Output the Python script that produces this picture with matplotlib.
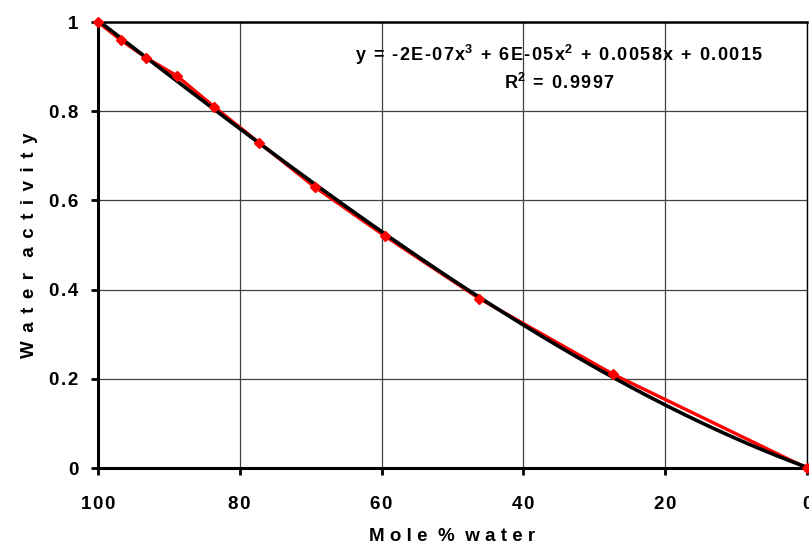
import numpy as np
import matplotlib
matplotlib.use("Agg")
from matplotlib import pyplot as plt

plt.rcParams['font.family'] = ['Liberation Sans', 'DejaVu Sans']
plt.rcParams['font.weight'] = 'bold'
plt.rcParams['mathtext.fontset'] = 'custom'
plt.rcParams['mathtext.rm'] = 'Liberation Sans:bold'
plt.rcParams['mathtext.it'] = 'Liberation Sans:bold'
plt.rcParams['mathtext.bf'] = 'Liberation Sans:bold'

# data
mole_pct_water = [100, 96.8, 93.2, 88.9, 83.6, 77.3, 69.4, 59.5, 46.2, 27.3, 0]
water_activity = [1.0, 0.96, 0.92, 0.88, 0.81, 0.73, 0.63, 0.52, 0.38, 0.21, 0.0]
x_ticks = [100, 80, 60, 40, 20, 0]
y_ticks = [0, 0.2, 0.4, 0.6, 0.8, 1]
y_tick_labels = ['0', '0.2', '0.4', '0.6', '0.8', '1']


def spaced(s, sep='\u200a'):
    # loose letter spacing, like the original chart text
    return sep.join(s)


eq_text = (spaced('y = -2E-07x') + r'$^{3}$' + '\u200a' + spaced(' + 6E-05x') + r'$^{2}$'
           + '\u200a' + spaced(' + 0.0058x + 0.0015'))
r2_text = 'R' + r'$^{2}$' + '\u200a' + spaced(' = 0.9997')

fig = plt.figure(figsize=(8.09, 5.52), dpi=100)
ax = fig.add_axes([0.121, 0.152, 0.8765, 0.808])

x = np.array(mole_pct_water)
y = np.array(water_activity)

# cubic trendline
coef = np.polyfit(x, y, 3)
xx = np.linspace(0, 100, 300)
ax.plot(xx, np.polyval(coef, xx), color='black', lw=2.6, zorder=3)

ax.plot(x, y, color='red', lw=2.4, zorder=2)
ax.plot(x, y, ls='none', marker='D', ms=5.5, color='red', zorder=4, clip_on=False)

ax.set_xlim(100, 0)
ax.set_ylim(0, 1)
ax.set_xticks(x_ticks)
ax.set_yticks(y_ticks)
ax.set_xticklabels([spaced(str(t)) for t in x_ticks], fontsize=13.5, fontweight='bold')
ax.set_yticklabels([spaced(t) for t in y_tick_labels], fontsize=13.5, fontweight='bold')
ax.grid(True, color='#404040', lw=0.9)
ax.set_axisbelow(True)
ax.tick_params(direction='out', length=5, width=2)
ax.tick_params(axis='x', pad=15)
ax.tick_params(axis='y', pad=9)

for s in ['left', 'bottom']:
    ax.spines[s].set_linewidth(2.2)
ax.spines['top'].set_linewidth(1.8)
ax.spines['right'].set_linewidth(1.0)

ax.set_xlabel('M o l e  %  w a t e r', fontsize=13.5, fontweight='bold', labelpad=11)
ax.set_ylabel(spaced('W a t e r  a c t i v i t y'), fontsize=13.5,
              fontweight='bold', labelpad=8)

ax.text(0.651, 0.926, eq_text, transform=ax.transAxes, ha='center', va='center',
        fontsize=13, fontweight='bold')
ax.text(0.651, 0.863, r2_text, transform=ax.transAxes, ha='center', va='center',
        fontsize=13, fontweight='bold')

fig.savefig('out.png', dpi=100)
